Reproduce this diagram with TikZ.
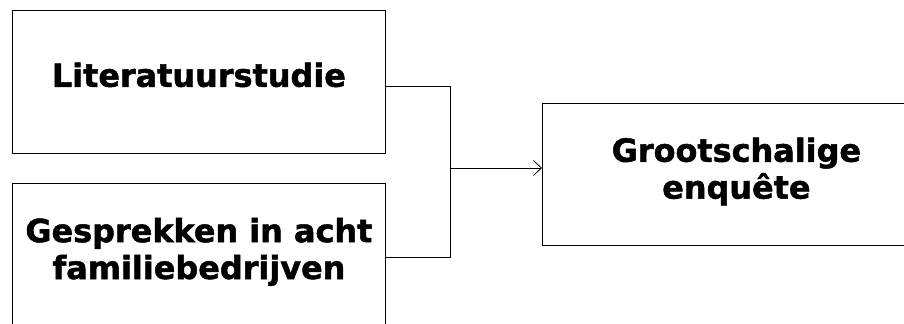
\documentclass[tikz,border=0pt]{standalone}
\usepackage{fontspec}
\setmainfont{DejaVu Sans}[BoldFeatures={FakeBold=1.5}]
\usetikzlibrary{arrows.meta, positioning}
\tikzset{
  StepBox/.style = {
    draw,
    line width = 0.8bp,
    minimum width = 373bp,
    minimum height = 143bp,
    anchor = north west,
  },
  StepText/.style = {
    align = center,
    font = \bfseries\fontsize{32}{37}\selectfont,
  },
  Arrow1/.style = {
    draw,
    line width = 0.8bp,
    -{Straight Barb[length = 8bp, width = 15bp]},
  }
}

\begin{document}
\begin{tikzpicture}[x=1bp, y=-1bp]
      \useasboundingbox (0,0) rectangle (904,323);
      \clip (0,0) rectangle (904,323);
      \node[StepBox] (lit) at (12,10) {};
      \node[StepBox] (gesprek) at (12,183) {};
      \node[StepBox, minimum width = 388bp, minimum height = 142bp] (enquete) at (542,103) {};
      \node[StepText] (littext) at ([yshift=7bp]lit.center) {Literatuurstudie};
      \node[StepText] (gesprektext) at ([yshift=3bp]gesprek.center) {Gesprekken in acht\\familiebedrijven};
      \node[StepText] (enquetetext) at ([yshift=3bp]enquete.center) {Grootschalige\\enquête};
      \coordinate (join) at (450,168);
      \draw[line width = 0.8bp] ([yshift=-4bp]lit.east) -| (join);
      \draw[line width = 0.8bp] ([yshift=-2bp]gesprek.east) -| (join);
      \draw (join)[Arrow1] -- (enquete.west |- join);
    \end{tikzpicture}
\end{document}
